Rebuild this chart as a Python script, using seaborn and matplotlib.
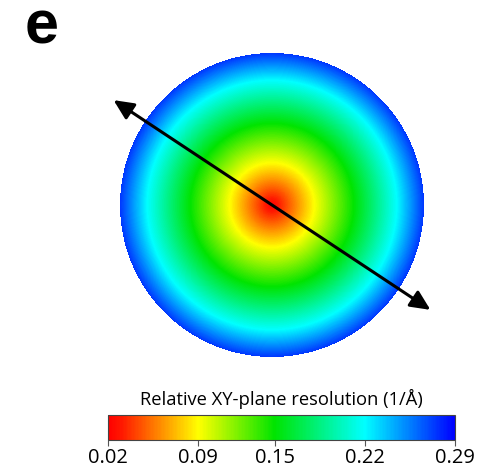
import numpy as np
import matplotlib
matplotlib.use("Agg")
import matplotlib.pyplot as plt
from matplotlib.colors import LinearSegmentedColormap
import seaborn as sns

# radial resolution profile (pixels from centre -> 1/A)
radius_px = [0, 42, 82, 125, 152]
resolution = [0.02, 0.09, 0.15, 0.22, 0.275]

cbar_ticks = [0.02, 0.09, 0.15, 0.22, 0.29]
cbar_label = "Relative XY-plane resolution (1/Å)"
panel_label = "e"

# colour stops seen on the colour bar
stop_pos = [0.0, 0.04, 0.26, 0.48, 0.74, 1.0]
stop_col = ["#ff0000", "#ff1a00", "#ffff00", "#00e400", "#00ffff", "#0000ff"]
cmap = LinearSegmentedColormap.from_list("res", list(zip(stop_pos, stop_col)))

sns.set_style("white")
plt.rcParams["font.family"] = ["Open Sans", "DejaVu Sans"]
plt.rcParams["text.color"] = "black"
plt.rcParams["xtick.color"] = "black"

W, H, DPI = 501, 473, 100
fig = plt.figure(figsize=(W / DPI, H / DPI), dpi=DPI)

# map axes: 320x320 px, one cell per pixel
n = 320
ax = fig.add_axes([112 / W, 1 - 365 / H, n / W, n / H])
cx = cy = 160
yy, xx = np.mgrid[0:n, 0:n] + 0.5
r = np.hypot(xx - cx, yy - cy)
field = np.interp(r, radius_px, resolution)
outside = r > radius_px[-1]

sns.heatmap(field, mask=outside, cmap=cmap, vmin=cbar_ticks[0], vmax=cbar_ticks[-1],
            cbar=False, xticklabels=False, yticklabels=False, ax=ax)
ax.set_axis_off()

# double arrow through the centre
ang = np.deg2rad(33.5)
half = 190
p0 = (cx - half * np.cos(ang), cy - half * np.sin(ang))
p1 = (cx + half * np.cos(ang), cy + half * np.sin(ang))
ax.annotate("", xy=p1, xytext=p0, annotation_clip=False,
            arrowprops=dict(arrowstyle="<|-|>,head_length=0.6,head_width=0.28",
                            lw=2.2, color="black", mutation_scale=20,
                            shrinkA=0, shrinkB=0))

# colour bar
cax = fig.add_axes([108 / W, 1 - 440 / H, 347 / W, 25 / H])
sm = plt.cm.ScalarMappable(cmap=cmap, norm=plt.Normalize(cbar_ticks[0], cbar_ticks[-1]))
cb = fig.colorbar(sm, cax=cax, orientation="horizontal", ticks=cbar_ticks)
cb.ax.set_xticklabels([f"{t:.2f}" for t in cbar_ticks], fontsize=14.5, color="black")
cb.ax.tick_params(length=4, width=0.8, color="#555555", pad=2)
cb.outline.set_linewidth(0.8)
cb.outline.set_edgecolor("#444444")
cax.set_title(cbar_label, fontsize=13.2, pad=7, color="black")

fig.text(25 / W, 1 - 44 / H, panel_label, fontsize=44, fontweight="bold",
         family="Liberation Sans", ha="left", va="baseline", color="black")

fig.savefig("out.png", dpi=DPI)
